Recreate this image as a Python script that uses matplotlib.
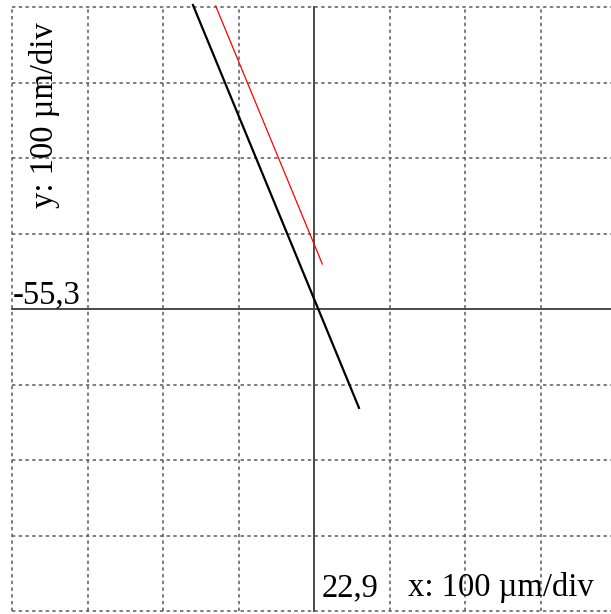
"""Displacement plot: two trajectories on a 100 um/div grid."""

import matplotlib
matplotlib.use('Agg')
import matplotlib.pyplot as plt

# Centre of the view (um) and grid pitch
X_CENTER = 22.9
Y_CENTER = -55.3
DIV = 100.0
N_DIV = 4  # divisions on each side of the centre

# Trajectories (um)
black_x = [-137.4, 82.5]
black_y = [347.3, -186.3]
red_x = [-107.3, 33.9]
red_y = [346.0, 4.3]

X_LABEL = "x: 100 \u00b5m/div"
Y_LABEL = "y: 100 \u00b5m/div"
X_CENTER_LABEL = "22,9"
Y_CENTER_LABEL = "-55,3"

W, H = 611, 614
fig = plt.figure(figsize=(W / 100, H / 100), dpi=100)
ax = fig.add_axes([0, 0, 1, 1])
ax.set_axis_off()

# pixel geometry of the grid in the reference
px_per_div = 75.5
cx, cy = 314, 309
ax.set_xlim(X_CENTER - cx / px_per_div * DIV, X_CENTER + (W - cx) / px_per_div * DIV)
ax.set_ylim(Y_CENTER - (H - cy) / px_per_div * DIV, Y_CENTER + cy / px_per_div * DIV)

x_lo, x_hi = X_CENTER - N_DIV * DIV, X_CENTER + N_DIV * DIV
y_lo, y_hi = Y_CENTER - N_DIV * DIV, Y_CENTER + N_DIV * DIV
grid_kw = dict(color="#5a5a5a", linewidth=1.1, linestyle=(0, (2.2, 2.2)), zorder=1)
axis_kw = dict(color="#4a4a4a", linewidth=1.4, zorder=2)
for k in range(-N_DIV, N_DIV + 1):
    kw = axis_kw if k == 0 else grid_kw
    gx = X_CENTER + k * DIV
    gy = Y_CENTER + k * DIV
    ax.plot([gx, gx], [y_lo, y_hi], **kw)
    ax.plot([x_lo, x_hi], [gy, gy], **kw)

ax.plot(black_x, black_y, color="black", linewidth=1.6, zorder=3)
ax.plot(red_x, red_y, color="#ff0000", linewidth=0.9, zorder=3)

font = dict(family=["Liberation Serif", "DejaVu Serif"], size=23.5, color="black")
ax.text(13 / W, 1 - 303 / H, Y_CENTER_LABEL, transform=ax.transAxes,
        ha="left", va="baseline", **font)
ax.text(322 / W, 1 - 596 / H, X_CENTER_LABEL, transform=ax.transAxes,
        ha="left", va="baseline", **font)
ax.text(408 / W, 1 - 596 / H, X_LABEL, transform=ax.transAxes,
        ha="left", va="baseline", **font)
ax.text(53 / W, 1 - 115 / H, Y_LABEL, transform=ax.transAxes, rotation=90,
        ha="center", va="baseline", rotation_mode="anchor", **font)

fig.savefig("out.png", dpi=100)
